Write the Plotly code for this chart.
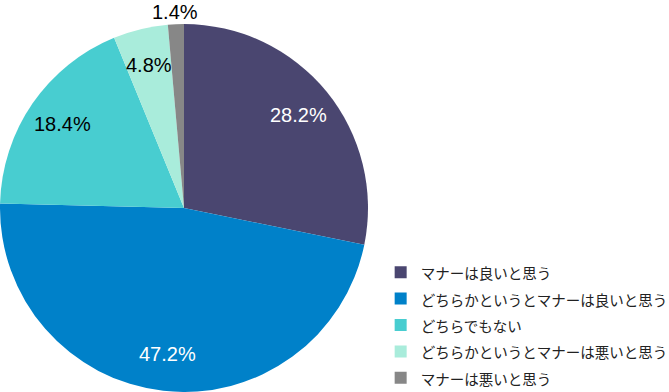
import math
import plotly.graph_objects as go

labels = ["マナーは良いと思う", "どちらかというとマナーは良いと思う", "どちらでもない",
          "どちらかというとマナーは悪いと思う", "マナーは悪いと思う"]
values = [28.2, 47.2, 18.4, 4.8, 1.4]
colors = ["#4a4670", "#0081c9", "#48cdd0", "#a9ecdb", "#878787"]
text_colors = ["white", "white", "black", "black", "black"]
label_radius = [0.8, 0.8, 0.8, 0.8, 1.065]

W, H = 669, 392
dom_x = [0, 368 / W]
dom_y = [0, 368 / H]

fig = go.Figure(go.Pie(
    labels=[f"<span style='font-size:14.5px'>{l}</span>" for l in labels],
    values=values,
    textinfo="none",
    marker=dict(colors=colors, line=dict(width=0)),
    sort=False,
    direction="clockwise",
    rotation=0,
    domain=dict(x=dom_x, y=dom_y),
    hoverinfo="label+percent",
))

# percentage labels positioned from the data (mid-angle of each slice)
cx = (dom_x[0] + dom_x[1]) / 2 * W
cy = (1 - (dom_y[0] + dom_y[1]) / 2) * H
r = min((dom_x[1] - dom_x[0]) * W, (dom_y[1] - dom_y[0]) * H) / 2
total = sum(values)
cum = 0.0
for v, tc, k in zip(values, text_colors, label_radius):
    mid = (cum + v / 2) / total * 2 * math.pi
    cum += v
    px = cx + k * r * math.sin(mid)
    py = cy - k * r * math.cos(mid)
    fig.add_annotation(
        x=px / W, y=1 - py / H, xref="paper", yref="paper",
        text=f"{v:.1f}%", showarrow=False,
        font=dict(size=20, color=tc, family="Liberation Sans, Arial, sans-serif"),
        xanchor="center", yanchor="middle",
    )

fig.update_layout(
    width=W, height=H,
    margin=dict(l=0, r=0, t=0, b=0, autoexpand=False),
    paper_bgcolor="white",
    font=dict(family="Noto Sans CJK JP, sans-serif", color="#222222"),
    legend=dict(x=0.569, y=0.352, xanchor="left", yanchor="top",
                xref="container", yref="container",
                font=dict(size=18, family="Noto Sans CJK JP, sans-serif"),
                bgcolor="rgba(0,0,0,0)"),
)

fig.write_html("out.html", config={"displayModeBar": False},
               post_script="document.body.style.margin='0px';")
